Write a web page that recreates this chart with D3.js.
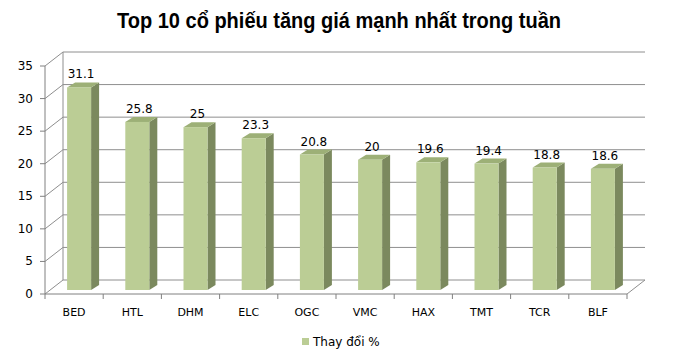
<!DOCTYPE html>
<html>
<head>
<meta charset="utf-8">
<script src="https://cdn.jsdelivr.net/npm/d3@7"></script>
<style>
  body { margin: 0; background: #fff; }
  text { font-family: "DejaVu Sans", sans-serif; fill: #000; }
</style>
</head>
<body>
<script>
var titleText = "Top 10 cổ phiếu tăng giá mạnh nhất trong tuần";
var legendLabel = "Thay đổi %";
var tickers = ["BED", "HTL", "DHM", "ELC", "OGC", "VMC", "HAX", "TMT", "TCR", "BLF"];
var changes = [31.1, 25.8, 25, 23.3, 20.8, 20, 19.6, 19.4, 18.8, 18.6];
var yTicks = [0, 5, 10, 15, 20, 25, 30, 35];

var svg = d3.select("body").append("svg")
    .attr("width", 678)
    .attr("height", 361);

// front floor / axis box
var x0 = 45, x1 = 627;
var DX = 18, DY = -14;          // depth of the 3d box
var bx = 5, by = -4;            // bar front shift inside the box
var bdx = 8, bdy = -5;          // bar depth

var xScale = d3.scaleBand()
    .domain(tickers)
    .range([x0, x1]);

var yScale = d3.scaleLinear()
    .domain([0, 35])
    .range([294, 66]);

var grid = "#8e8e8e";

// back wall grid lines
svg.selectAll("line.grid")
    .data(yTicks)
    .enter()
    .append("line")
    .attr("class", "grid")
    .attr("x1", x0 + DX)
    .attr("x2", x1 + DX)
    .attr("y1", function (d) { return yScale(d) + DY; })
    .attr("y2", function (d) { return yScale(d) + DY; })
    .style("stroke", grid)
    .style("stroke-width", 1);

// side wall diagonals
svg.selectAll("line.diag")
    .data(yTicks)
    .enter()
    .append("line")
    .attr("class", "diag")
    .attr("x1", x0)
    .attr("x2", x0 + DX)
    .attr("y1", function (d) { return yScale(d); })
    .attr("y2", function (d) { return yScale(d) + DY; })
    .style("stroke", grid)
    .style("stroke-width", 1);

// back wall left edge
svg.append("line")
    .attr("x1", x0 + DX).attr("x2", x0 + DX)
    .attr("y1", yScale(0) + DY).attr("y2", yScale(35) + DY)
    .style("stroke", grid);

// floor edges
svg.append("line")
    .attr("x1", x1).attr("x2", x1 + DX)
    .attr("y1", yScale(0)).attr("y2", yScale(0) + DY)
    .style("stroke", grid);

// front axes
svg.append("line")
    .attr("x1", x0).attr("x2", x0)
    .attr("y1", yScale(0)).attr("y2", yScale(35))
    .style("stroke", "#808080");
svg.append("line")
    .attr("x1", x0).attr("x2", x1)
    .attr("y1", yScale(0)).attr("y2", yScale(0))
    .style("stroke", "#808080");

// y ticks + labels
svg.selectAll("line.ytick")
    .data(yTicks)
    .enter()
    .append("line")
    .attr("class", "ytick")
    .attr("x1", x0 - 5).attr("x2", x0)
    .attr("y1", function (d) { return yScale(d); })
    .attr("y2", function (d) { return yScale(d); })
    .style("stroke", "#808080");

svg.selectAll("text.ylab")
    .data(yTicks)
    .enter()
    .append("text")
    .attr("class", "ylab")
    .attr("x", 33)
    .attr("y", function (d) { return yScale(d) + 4; })
    .attr("text-anchor", "end")
    .attr("font-size", "12px")
    .text(function (d) { return d; });

// x ticks at category boundaries
var bounds = tickers.map(function (t) { return xScale(t); }).concat([x1]);
svg.selectAll("line.xtick")
    .data(bounds)
    .enter()
    .append("line")
    .attr("class", "xtick")
    .attr("x1", function (d) { return d; })
    .attr("x2", function (d) { return d; })
    .attr("y1", yScale(0))
    .attr("y2", yScale(0) + 5)
    .style("stroke", "#808080");

svg.selectAll("text.xlab")
    .data(tickers)
    .enter()
    .append("text")
    .attr("class", "xlab")
    .attr("x", function (d) { return xScale(d) + xScale.bandwidth() / 2; })
    .attr("y", 316)
    .attr("text-anchor", "middle")
    .attr("font-size", "11px")
    .text(function (d) { return d; });

// bars
var barW = 24;
var bars = svg.selectAll("g.bar")
    .data(tickers.map(function (t, i) { return {name: t, value: changes[i]}; }))
    .enter()
    .append("g")
    .attr("class", "bar");

function barLeft(d) { return xScale(d.name) + xScale.bandwidth() / 2 - barW / 2 + bx; }
function barTop(d) { return yScale(d.value) + by; }
var barBottom = yScale(0) + by;

// side face
bars.append("path")
    .attr("d", function (d) {
        var r = barLeft(d) + barW, t = barTop(d);
        return "M" + r + "," + t + "L" + (r + bdx) + "," + (t + bdy) +
            "L" + (r + bdx) + "," + (barBottom + bdy) + "L" + r + "," + barBottom + "Z";
    })
    .style("fill", "#7b895e");

// top face
bars.append("path")
    .attr("d", function (d) {
        var l = barLeft(d), t = barTop(d);
        return "M" + l + "," + t + "L" + (l + barW) + "," + t +
            "L" + (l + barW + bdx) + "," + (t + bdy) + "L" + (l + bdx) + "," + (t + bdy) + "Z";
    })
    .style("fill", "#9db077");

// front face
bars.append("rect")
    .attr("x", barLeft)
    .attr("y", barTop)
    .attr("width", barW)
    .attr("height", function (d) { return barBottom - barTop(d); })
    .style("fill", "#bbcd95");

// value labels
bars.append("text")
    .attr("x", function (d) { return barLeft(d) + barW / 2 + 2; })
    .attr("y", function (d) { return barTop(d) - 9; })
    .attr("text-anchor", "middle")
    .attr("font-size", "12px")
    .text(function (d) { return d.value; });

// title (condensed bold look)
svg.append("text")
    .attr("x", 339)
    .attr("y", 28)
    .attr("text-anchor", "middle")
    .style("font-family", "'Liberation Sans Narrow', 'Liberation Sans', Arial, sans-serif")
    .style("font-weight", "bold")
    .style("font-size", "22px")
    .attr("textLength", 444)
    .attr("lengthAdjust", "spacingAndGlyphs")
    .text(titleText);

// legend
svg.append("rect")
    .attr("x", 302).attr("y", 338)
    .attr("width", 7).attr("height", 7)
    .style("fill", "#bbcd95");
svg.append("text")
    .attr("x", 313)
    .attr("y", 346)
    .attr("font-size", "12px")
    .text(legendLabel);
</script>
</body>
</html>
